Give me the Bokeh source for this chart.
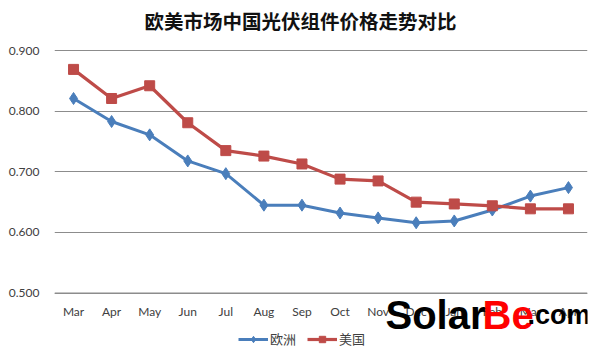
from bokeh.plotting import figure
from bokeh.models import FixedTicker, Legend, LegendItem, Label, Range1d, CustomJSTickFormatter, Span
from bokeh.embed import file_html
from bokeh.resources import INLINE

title = "欧美市场中国光伏组件价格走势对比"
months = ["Mar", "Apr", "May", "Jun", "Jul", "Aug", "Sep", "Oct", "Nov", "Dec", "Jan", "Feb", "Mar", "Apr"]
europe = [0.821, 0.783, 0.761, 0.718, 0.697, 0.645, 0.645, 0.632, 0.624, 0.616, 0.619, 0.637, 0.660, 0.674]
usa = [0.869, 0.821, 0.842, 0.781, 0.735, 0.726, 0.713, 0.688, 0.685, 0.650, 0.647, 0.644, 0.639, 0.639]
y_ticks = [0.5, 0.6, 0.7, 0.8, 0.9]

xs = list(range(len(months)))

# frame spans the full height 0..354; 0.9 at y~50, 0.5 at y~292.6
p = figure(width=600, height=354, output_backend="svg", toolbar_location=None, title=None,
           x_range=Range1d(-0.5, len(months) - 0.5),
           y_range=Range1d(0.5 - 61.3 / 605, 0.9 + 50 / 605),
           min_border_left=54, min_border_right=13, min_border_top=0, min_border_bottom=0)
p.outline_line_color = None
p.background_fill_color = "white"

p.xaxis.ticker = FixedTicker(ticks=xs)
p.xaxis.major_label_overrides = {i: m for i, m in enumerate(months)}
p.xaxis.fixed_location = y_ticks[0]
p.yaxis.ticker = FixedTicker(ticks=y_ticks)
p.yaxis.formatter = CustomJSTickFormatter(code="return tick.toFixed(3);")
for ax in (p.xaxis[0], p.yaxis[0]):
    ax.axis_line_color = None
    ax.major_tick_line_color = None
    ax.minor_tick_line_color = None
    ax.major_label_text_font = "Lato"
    ax.major_label_text_font_size = "12px"
    ax.major_label_text_color = "#404040"
p.yaxis.major_label_standoff = 9
p.xaxis.major_label_standoff = 5
p.xgrid.grid_line_color = None
p.ygrid.ticker = FixedTicker(ticks=y_ticks)
p.ygrid.grid_line_color = "#8c8c8c"
p.ygrid.grid_line_width = 1
p.add_layout(Span(location=y_ticks[0], dimension="width", line_color="#8c8c8c",
                  line_width=1.2, level="overlay"))

blue = "#4A7EBB"
red = "#BE4B48"
l1 = p.line(xs, europe, line_color=blue, line_width=3)
m1 = p.scatter(xs, europe, marker="diamond", size=12, fill_color=blue, line_color=blue)
l2 = p.line(xs, usa, line_color=red, line_width=3.2)
m2 = p.scatter(xs, usa, marker="square", size=10, fill_color=red, line_color=red)

legend = Legend(items=[LegendItem(label="欧洲", renderers=[l1, m1]),
                       LegendItem(label="美国", renderers=[l2, m2])],
                orientation="horizontal", location=(184, 6),
                label_text_font="Noto Sans CJK SC", label_text_font_size="13px",
                label_text_color="#404040", border_line_color=None, background_fill_alpha=0,
                glyph_width=30, glyph_height=16, spacing=11, padding=0, margin=0, label_standoff=2)
p.add_layout(legend)

p.add_layout(Label(x=300 - 54, y=354 - 20, x_units="screen", y_units="screen", text=title,
                   text_font="Noto Sans CJK SC", text_font_size="19.5px", text_font_style="bold",
                   text_color="#111111", text_align="center", text_baseline="middle"))

wm = dict(x_units="screen", y_units="screen", text_font="Liberation Sans",
          text_font_style="bold", text_baseline="alphabetic")
p.add_layout(Label(x=331, y=40, text="Solar", text_font_size="40px", text_color="black", **wm))
p.add_layout(Label(x=428, y=40, text="Be", text_font_size="40px", text_color="#ff0000", **wm))
p.add_layout(Label(x=473, y=40, text=".com", text_font_size="27px", text_color="black", **wm))

open("out.html", "w").write(file_html(p, INLINE))
